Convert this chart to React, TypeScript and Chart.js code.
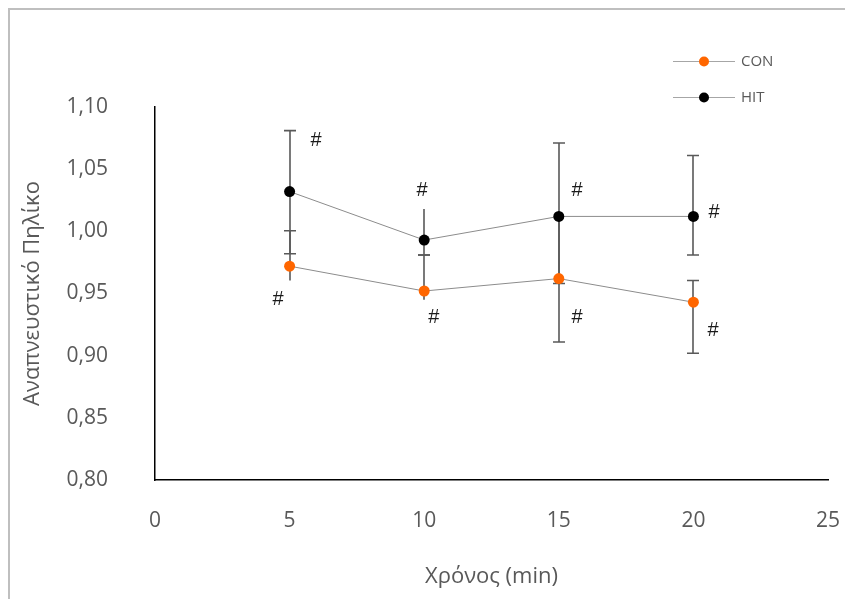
import React, { useEffect, useRef } from "react";
import { Chart, registerables } from "chart.js";

Chart.register(...registerables);

// ---- data ----
const times = [5, 10, 15, 20];
const conValues = [0.972, 0.952, 0.962, 0.943];
const hitValues = [1.032, 0.993, 1.012, 1.012];

// visible error bar ends
const hitHigh = [1.081, 1.018, 1.071, 1.061];
const hitLow = [0.982, 0.981, 0.958, 0.981];
const conHigh = [1.0005, 0.981, 1.012, 0.9605];
const conLow = [0.9605, 0.945, 0.911, 0.902];
const hitHighCap = [true, false, true, true];
const hitLowCap = [true, true, true, true];
const conHighCap = [true, true, false, true];
const conLowCap = [false, false, true, true];

// significance markers (data coordinates)
const markX = [5.98, 4.57, 9.92, 10.36, 15.68, 15.68, 20.77, 20.73];
const markY = [1.073, 0.945, 1.0326, 0.9307, 1.0326, 0.9307, 1.015, 0.92];
const markText = ["#", "#", "#", "#", "#", "#", "#", "#"];

const xMin = 0;
const xMax = 25;
const xStep = 5;
const yMin = 0.8;
const yMax = 1.1;
const yStep = 0.05;

const seriesLabels = ["CON", "HIT"];
const seriesColors = ["#ff6600", "#000000"];

const FONT = "'Open Sans', sans-serif";

const errorBarPlugin = {
  id: "errorBars",
  beforeDatasetsDraw(chart: any) {
    const { ctx, scales } = chart;
    const xs = scales.x;
    const ys = scales.y;
    ctx.save();
    ctx.strokeStyle = "#595959";
    ctx.lineWidth = 1.6;
    const capHalf = 6;
    const draw = (hi: number[], lo: number[], hc: boolean[], lc: boolean[]) => {
      for (let i = 0; i < times.length; i++) {
        const px = Math.round(xs.getPixelForValue(times[i]));
        const yh = ys.getPixelForValue(hi[i]);
        const yl = ys.getPixelForValue(lo[i]);
        ctx.beginPath();
        ctx.moveTo(px, yh);
        ctx.lineTo(px, yl);
        if (hc[i]) {
          ctx.moveTo(px - capHalf, yh);
          ctx.lineTo(px + capHalf, yh);
        }
        if (lc[i]) {
          ctx.moveTo(px - capHalf, yl);
          ctx.lineTo(px + capHalf, yl);
        }
        ctx.stroke();
      }
    };
    draw(hitHigh, hitLow, hitHighCap, hitLowCap);
    draw(conHigh, conLow, conHighCap, conLowCap);
    ctx.restore();
  },
  afterDatasetsDraw(chart: any) {
    const { ctx, scales } = chart;
    ctx.save();
    ctx.fillStyle = "#1a1a1a";
    ctx.font = `20px 'Liberation Sans', sans-serif`;
    ctx.textAlign = "center";
    ctx.textBaseline = "middle";
    for (let i = 0; i < markText.length; i++) {
      ctx.fillText(
        markText[i],
        scales.x.getPixelForValue(markX[i]),
        scales.y.getPixelForValue(markY[i])
      );
    }
    ctx.restore();
  },
  afterDraw(chart: any) {
    const { ctx } = chart;
    ctx.save();
    const lx0 = 663;
    const lx1 = 725;
    const py = [51, 87];
    chart.data.datasets.forEach((ds: any, i: number) => {
      const y = py[i];
      ctx.strokeStyle = "#a6a6a6";
      ctx.lineWidth = 1;
      ctx.beginPath();
      ctx.moveTo(lx0, y + 0.5);
      ctx.lineTo(lx1, y + 0.5);
      ctx.stroke();
      ctx.fillStyle = ds.pointBackgroundColor;
      ctx.beginPath();
      ctx.arc((lx0 + lx1) / 2, y + 0.5, 5, 0, Math.PI * 2);
      ctx.fill();
      ctx.fillStyle = "#595959";
      ctx.font = `15px ${FONT}`;
      ctx.textAlign = "left";
      ctx.textBaseline = "middle";
      ctx.fillText(ds.label, 731, y + 1);
    });
    ctx.restore();
  },
};

export default function App() {
  const ref = useRef<HTMLCanvasElement | null>(null);

  useEffect(() => {
    document.documentElement.style.overflow = "hidden";
    document.body.style.marginRight = "0px";
    document.body.style.marginBottom = "0px";
    if (!ref.current) return;
    const makeData = (vals: number[]) => times.map((t, i) => ({ x: t, y: vals[i] }));
    const chart = new Chart(ref.current, {
      type: "scatter",
      data: {
        datasets: [
          {
            label: seriesLabels[0],
            data: makeData(conValues),
            showLine: true,
            borderColor: "#8c8c8c",
            borderWidth: 1,
            pointBackgroundColor: seriesColors[0],
            pointBorderColor: seriesColors[0],
            pointRadius: 5.5,
            pointBorderWidth: 0,
          },
          {
            label: seriesLabels[1],
            data: makeData(hitValues),
            showLine: true,
            borderColor: "#8c8c8c",
            borderWidth: 1,
            pointBackgroundColor: seriesColors[1],
            pointBorderColor: seriesColors[1],
            pointRadius: 5.5,
            pointBorderWidth: 0,
          },
        ],
      },
      options: {
        responsive: false,
        animation: false,
        layout: { padding: { top: 97, right: 17, bottom: 0, left: 0 } },
        plugins: {
          legend: { display: false },
          tooltip: { enabled: false },
        },
        scales: {
          x: {
            type: "linear",
            min: xMin,
            max: xMax,
            grid: {
              display: true,
              drawOnChartArea: false,
              drawTicks: true,
              tickLength: 28,
              color: "rgba(0,0,0,0)",
            },
            border: { display: true, color: "#000000", width: 1.5 },
            ticks: {
              stepSize: xStep,
              color: "#595959",
              font: { family: FONT, size: 21 },
              padding: 0,
              maxRotation: 0,
            },
            title: {
              display: true,
              text: "Χρόνος (min)",
              color: "#595959",
              font: { family: FONT, size: 22 },
              padding: { top: 0, bottom: 9 },
            },
            afterFit(scale: any) {
              scale.height = 119;
            },
          },
          y: {
            type: "linear",
            min: yMin,
            max: yMax,
            grid: { display: false, drawTicks: false, tickLength: 0 },
            border: { display: true, color: "#000000", width: 1.5 },
            ticks: {
              stepSize: yStep,
              color: "#595959",
              font: { family: FONT, size: 21 },
              padding: 47,
              callback: (v: any) => Number(v).toFixed(2).replace(".", ","),
            },
            title: {
              display: true,
              text: "Αναπνευστικό Πηλίκο",
              color: "#595959",
              font: { family: FONT, size: 22 },
              padding: { top: 10, bottom: 0 },
            },
            afterFit(scale: any) {
              scale.width = 145;
            },
          },
        },
      },
      plugins: [errorBarPlugin],
    });
    return () => chart.destroy();
  }, []);

  return (
    <div style={{ width: 837, height: 591, overflow: "hidden" }}>
      <div
        style={{
          border: "2px solid #bfbfbf",
          width: 900,
          height: 700,
          boxSizing: "border-box",
          background: "#ffffff",
        }}
      >
        <canvas ref={ref} width={835} height={589} style={{ display: "block" }} />
      </div>
    </div>
  );
}
